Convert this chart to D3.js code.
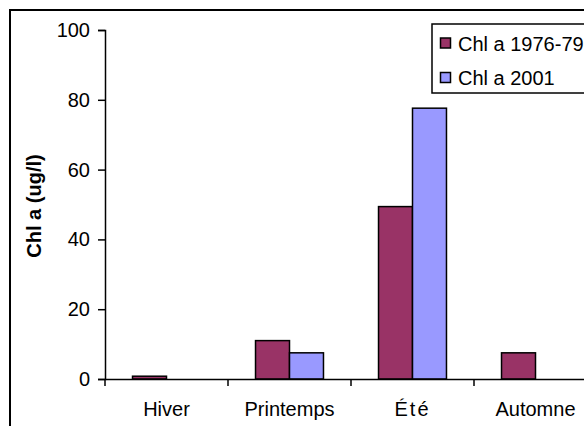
<!DOCTYPE html>
<html>
<head>
<meta charset="utf-8">
<script src="https://cdn.jsdelivr.net/npm/d3@7"></script>
<style>
  html, body { margin: 0; padding: 0; background: #fff; }
  svg { display: block; font-family: "Liberation Sans", Arial, sans-serif; }
</style>
</head>
<body>
<svg id="chart" width="584" height="426"></svg>
<script>
// Seasonal chlorophyll a (ug/l), two sampling periods
const seasons = ["Hiver", "Printemps", "Été", "Automne"];
const seriesNames = ["Chl a 1976-79", "Chl a 2001"];
const chl197679 = [0.8, 11, 49.4, 7.5];
const chl2001 = [null, 7.5, 77.6, null];
const yTicks = [0, 20, 40, 60, 80, 100];
const seriesColors = ["#993366", "#9999FF"];

const fontSize = 20;
const svg = d3.select("#chart");

// Chart area frame (runs past the right and bottom edges)
svg.append("rect")
  .attr("x", 10).attr("y", 10)
  .attr("width", 620).attr("height", 460)
  .attr("fill", "none").attr("stroke", "#000").attr("stroke-width", 2);

const plot = { left: 105, right: 597, top: 30, bottom: 379 };

const x = d3.scaleBand().domain(seasons).range([plot.left, plot.right]).paddingInner(0).paddingOuter(0);
const xs = d3.scaleBand().domain(seriesNames).range([0, x.bandwidth()]).paddingInner(0).paddingOuter(0.81);
const y = d3.scaleLinear().domain([0, 100]).range([plot.bottom, plot.top]);

const rows = seasons.map((s, i) => ({ season: s, values: [chl197679[i], chl2001[i]] }));

// Bars
const groups = svg.append("g").selectAll("g").data(rows).join("g")
  .attr("transform", d => `translate(${x(d.season)},0)`);
groups.selectAll("rect")
  .data(d => d.values.map((v, k) => ({ name: seriesNames[k], value: v, color: seriesColors[k] })).filter(e => e.value != null))
  .join("rect")
  .attr("x", d => xs(d.name))
  .attr("y", d => y(d.value))
  .attr("width", xs.bandwidth())
  .attr("height", d => y(0) - y(d.value))
  .attr("fill", d => d.color)
  .attr("stroke", "#000").attr("stroke-width", 1.5);

// Y axis
const yAxis = svg.append("g")
  .attr("transform", `translate(${plot.left},0)`)
  .call(d3.axisLeft(y).tickValues(yTicks).tickSize(7).tickPadding(8).tickFormat(d3.format("d")));
yAxis.select(".domain").attr("stroke-width", 1.5);
yAxis.selectAll(".tick line").attr("stroke-width", 1.5);
yAxis.selectAll("text").attr("font-size", fontSize).attr("fill", "#000")
  .attr("font-family", "'Liberation Sans', Arial, sans-serif");

// X axis: line, ticks at category boundaries, centred labels
const xAxis = svg.append("g").attr("transform", `translate(0,${plot.bottom})`);
xAxis.call(d3.axisBottom(x).tickSize(0).tickPadding(23));
xAxis.select(".domain").attr("stroke-width", 1.5);
xAxis.selectAll("text").attr("font-size", fontSize).attr("fill", "#000")
  .attr("font-family", "'Liberation Sans', Arial, sans-serif")
  .attr("letter-spacing", d => d === "Été" ? 2 : 0);
const edges = seasons.map(s => x(s)).concat([x(seasons[seasons.length - 1]) + x.bandwidth()]);
xAxis.selectAll("line.edge").data(edges).join("line")
  .attr("class", "edge")
  .attr("x1", d => d).attr("x2", d => d)
  .attr("y1", 0).attr("y2", 7)
  .attr("stroke", "#000").attr("stroke-width", 1.5);

// Y axis title
svg.append("text")
  .attr("transform", `translate(41,206) rotate(-90)`)
  .attr("text-anchor", "middle")
  .attr("font-size", fontSize).attr("font-weight", "bold")
  .text("Chl a (ug/l)");

// Legend
const legend = svg.append("g").attr("transform", "translate(432,24)");
legend.append("rect")
  .attr("x", 0).attr("y", 0).attr("width", 200).attr("height", 69)
  .attr("fill", "#fff").attr("stroke", "#000").attr("stroke-width", 1.5);
const items = legend.selectAll("g.item").data(seriesNames).join("g")
  .attr("class", "item")
  .attr("transform", (d, i) => `translate(0,${14 + i * 34.5})`);
items.append("rect")
  .attr("x", 8.5).attr("y", 0).attr("width", 10).attr("height", 10)
  .attr("fill", (d, i) => seriesColors[i]).attr("stroke", "#000").attr("stroke-width", 1.5);
items.append("text")
  .attr("x", 26).attr("y", 12.5)
  .attr("font-size", fontSize)
  .text(d => d);
</script>
</body>
</html>
